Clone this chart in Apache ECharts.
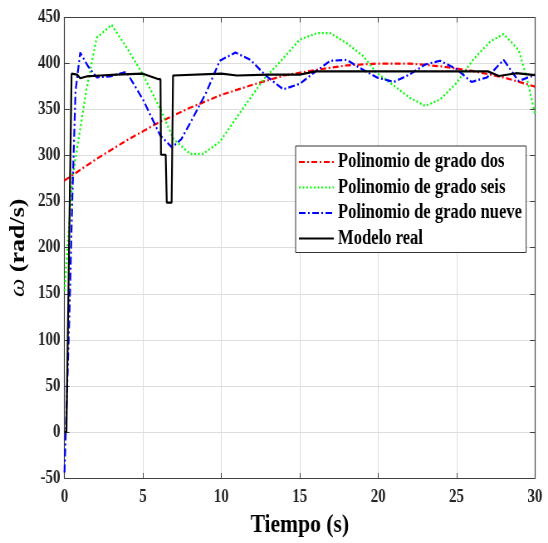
<!DOCTYPE html>
<html>
<head>
<meta charset="utf-8">
<script src="https://cdn.jsdelivr.net/npm/echarts@6/dist/echarts.min.js"></script>
<style>
html,body{margin:0;padding:0;background:#fff;overflow:hidden;width:548px;height:543px;}
#c{width:660px;height:543px;transform:scaleX(0.8303);transform-origin:0 0;}
</style>
</head>
<body>
<div id="c"></div>
<script>
// ---- data ----
const xTicks = [0, 5, 10, 15, 20, 25, 30];
const yTicks = [-50, 0, 50, 100, 150, 200, 250, 300, 350, 400, 450];
const seriesNames = ['Polinomio de grado dos', 'Polinomio de grado seis', 'Polinomio de grado nueve', 'Modelo real'];

const tRed = [0, 2, 4, 6, 8, 10, 12, 14, 16, 18, 20, 22, 24, 26, 28, 30];
const vRed = [273, 296, 317, 336, 352, 366, 377, 387, 393, 398, 400, 400, 397, 392, 385, 375];

const tGreen = [0, 0.5, 1.4, 2.05, 3, 4.05, 5, 6.1, 6.95, 8, 8.85, 9.9, 11.2, 12.7, 13.75, 15, 16.1, 16.95, 18, 19.05, 19.9, 21, 22, 23, 23.95, 25, 26.05, 27.15, 28, 28.95, 29.5, 30];
const vGreen = [153, 275, 372, 428, 442, 415, 388, 351, 318, 302, 302, 315, 347, 383, 402, 426, 433, 433, 422, 408, 390, 376, 363, 354, 361, 379, 404, 424, 432, 415, 383, 345];

const tBlue = [0, 0.3, 0.5, 0.7, 1.0, 1.5, 2.05, 2.9, 3.95, 5.0, 6.1, 6.85, 7.45, 8.0, 9.05, 9.9, 10.9, 11.85, 12.9, 13.95, 15.0, 15.9, 16.95, 18.0, 18.85, 19.9, 21.0, 22.0, 23.0, 23.95, 25.0, 25.95, 26.95, 28.0, 28.95, 29.9, 30];
const vBlue = [-44, 120, 255, 370, 412, 397, 385, 386, 391, 361, 322, 309, 318, 335, 369, 403, 412, 404, 386, 372, 378, 390, 403, 404, 395, 385, 380, 388, 399, 403, 394, 380, 385, 404, 381, 387, 388];

const tBlack = [0, 0.12, 0.45, 0.8, 1.0, 1.4, 2.3, 3.3, 5.0, 6.0, 6.12, 6.15, 6.45, 6.52, 6.83, 6.92, 7.0, 10, 11, 13, 15, 16, 27, 27.7, 28.8, 30];
const vBlack = [0, 0, 389, 388, 384, 386, 387, 388, 389, 383, 383, 301, 301, 249, 249, 387, 389, 389, 387, 388, 388, 391.5, 391.5, 386.5, 389.5, 387.5];

function zip(t, v) { return t.map((x, i) => [x, v[i]]); }

const FONT = 'Liberation Serif';
const AX = '#262626';

const chart = echarts.init(document.getElementById('c'), null, {renderer: 'canvas'});

const common = {min: xTicks[0], max: xTicks[xTicks.length - 1], interval: xTicks[1] - xTicks[0]};
const commonY = {min: yTicks[0], max: yTicks[yTicks.length - 1], interval: yTicks[1] - yTicks[0]};

function mkLine(name, data, color, type, width, z) {
  return {
    name, type: 'line', data, symbol: 'none', z,
    lineStyle: {color, width, type},
    itemStyle: {color},
    xAxisIndex: 0, yAxisIndex: 0
  };
}

chart.setOption({
  animation: false,
  backgroundColor: '#fff',
  grid: {left: 77.7, right: 15.7, top: 17.5, bottom: 60.3},
  xAxis: [
    Object.assign({
      type: 'value', position: 'bottom',
      name: 'Tiempo (s)', nameLocation: 'middle', nameGap: 34,
      nameTextStyle: {fontFamily: FONT, fontWeight: 'bold', fontSize: 26, color: '#000'},
      axisLine: {show: true, onZero: false, lineStyle: {color: '#404040', width: 1.2}},
      axisTick: {show: true, inside: true, length: 5, lineStyle: {color: '#404040'}},
      axisLabel: {fontFamily: FONT, fontWeight: 'bold', fontSize: 18, color: AX, margin: 10},
      splitLine: {show: true, lineStyle: {color: '#dedede', width: 1}}
    }, common),
    Object.assign({
      type: 'value', position: 'top',
      axisLine: {show: true, onZero: false, lineStyle: {color: '#404040', width: 1.2}},
      axisTick: {show: true, inside: true, length: 5, lineStyle: {color: '#404040'}},
      axisLabel: {show: false}, splitLine: {show: false}
    }, common)
  ],
  yAxis: [
    Object.assign({
      type: 'value', position: 'left',
      name: '{w|ω} {b|(rad/s)}', nameLocation: 'middle', nameGap: 36, nameRotate: 90,
      nameTextStyle: {
        fontFamily: FONT, fontSize: 26, color: '#000',
        rich: {
          w: {fontFamily: FONT, fontStyle: 'italic', fontWeight: 'normal', fontSize: 26, color: '#000'},
          b: {fontFamily: FONT, fontWeight: 'bold', fontSize: 26, color: '#000'}
        }
      },
      axisLine: {show: true, onZero: false, lineStyle: {color: '#404040', width: 1.2}},
      axisTick: {show: true, inside: true, length: 6, lineStyle: {color: '#404040'}},
      axisLabel: {fontFamily: FONT, fontWeight: 'bold', fontSize: 18, color: AX, margin: 5},
      splitLine: {show: true, lineStyle: {color: '#dedede', width: 1}}
    }, commonY),
    Object.assign({
      type: 'value', position: 'right',
      axisLine: {show: true, onZero: false, lineStyle: {color: '#404040', width: 1.2}},
      axisTick: {show: true, inside: true, length: 6, lineStyle: {color: '#404040'}},
      axisLabel: {show: false}, splitLine: {show: false}
    }, commonY)
  ],
  legend: {
    show: true, orient: 'vertical', left: 356, top: 146,
    padding: [6, 5, 4, 3], itemGap: 5.5, itemWidth: 42, itemHeight: 20,
    backgroundColor: '#fff', borderColor: '#333', borderWidth: 1, borderRadius: 0,
    itemStyle: {opacity: 0},
    textStyle: {fontFamily: FONT, fontWeight: 'bold', fontSize: 20, color: '#000', lineHeight: 20},
    data: seriesNames
  },
  series: [
    mkLine(seriesNames[0], zip(tRed, vRed), '#ff0000', [7, 3, 2, 3], 2.2, 2),
    mkLine(seriesNames[1], zip(tGreen, vGreen), '#00ff00', [2, 2.5], 2.2, 3),
    mkLine(seriesNames[2], zip(tBlue, vBlue), '#0000ff', [8, 3, 2, 3], 2.2, 4),
    mkLine(seriesNames[3], zip(tBlack, vBlack), '#000000', 'solid', 2.2, 5)
  ]
});
</script>
</body>
</html>
